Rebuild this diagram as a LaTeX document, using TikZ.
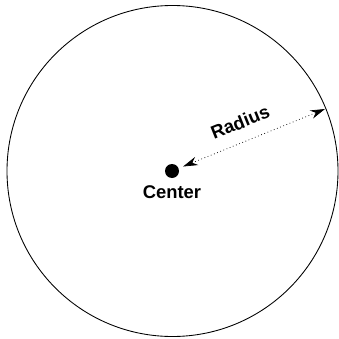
\documentclass[tikz,border=0pt]{standalone}
\usepackage{fontspec}
\setmainfont{Liberation Sans}
\usetikzlibrary{arrows.meta, positioning}

\tikzset{
  rim/.style={line width=0.65pt},
  centerdot/.style={circle, fill=black, minimum size=10.5pt, inner sep=0pt},
  label text/.style={font=\fontsize{13.8}{16}\selectfont\bfseries},
  radius arrow/.style={<->, dotted, line width=0.55pt}
}

\begin{document}
\begin{tikzpicture}[x=0.75pt, y=-0.75pt, >={Stealth[length=11pt,width=6.5pt]}]
  \useasboundingbox (0,0) rectangle (339,339);

  % Kreis
  \draw[rim] (172.5,171) circle[radius=165.5];

  % Mittelpunkt
  \node[centerdot] (dot) at (172,171) {};
  \node[label text, below=2pt of dot] (centerlabel) {Center};

  % Radius
  \coordinate (edge) at (325,109);
  \draw[radius arrow, shorten <=3.5pt] (dot) -- (edge)
    node[label text, pos=0.47, sloped, above=6pt] (radiuslabel) {Radius};
\end{tikzpicture}
\end{document}
